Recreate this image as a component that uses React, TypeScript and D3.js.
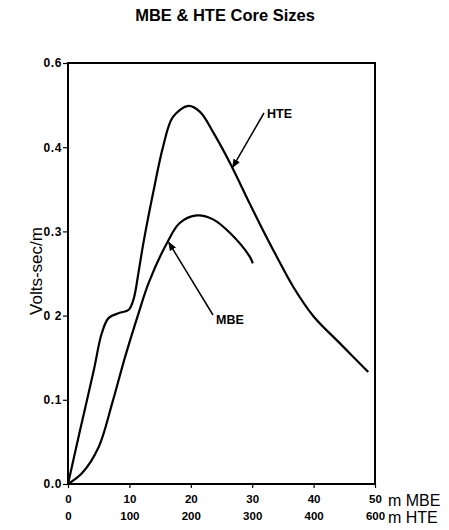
import React, { useEffect, useRef } from "react";
import * as d3 from "d3";

// Y tick values (axis position) and the labels as printed on the chart
const yTickValues = [0, 0.1, 0.2, 0.3, 0.4, 0.5];
const yTickLabels = ["0.0", "0.1", "0 2", "0.3", "0.4", "0.6"];

// MBE length axis (m)
const mbeTickValues = [0, 10, 20, 30, 40, 50];
const mbeTickLabels = ["0", "10", "20", "30", "40", "50"];

// HTE length axis (m), positions and printed labels
const hteTickValues = [0, 100, 200, 300, 400, 500];
const hteTickLabels = ["0", "100", "200", "300", "400", "600"];

// HTE curve, x in HTE axis units
const hteX = [0, 20, 42, 55, 66, 83, 99, 107, 115, 123, 139, 155, 171, 196, 215, 237, 264, 296, 313, 340, 367, 400, 443, 489];
const hteY = [0, 0.065, 0.135, 0.179, 0.197, 0.203, 0.207, 0.22, 0.252, 0.287, 0.347, 0.401, 0.436, 0.449, 0.442, 0.417, 0.381, 0.333, 0.308, 0.27, 0.234, 0.199, 0.167, 0.133];

// MBE curve, x in MBE axis units
const mbeX = [0, 2.3, 5.0, 7.2, 9.3, 11.5, 13.2, 16.1, 18.2, 21.0, 23.7, 26.4, 29.6, 30.1];
const mbeY = [0, 0.013, 0.044, 0.096, 0.151, 0.203, 0.24, 0.286, 0.31, 0.319, 0.314, 0.298, 0.27, 0.262];

const FONT = "'Liberation Sans', Arial, sans-serif";

const App: React.FC = () => {
  const svgRef = useRef<SVGSVGElement>(null);

  useEffect(() => {
    if (!svgRef.current) return;
    const svg = d3.select(svgRef.current);
    svg.selectAll("*").remove();

    const left = 68;
    const right = 375;
    const top = 63;
    const bottom = 484;

    const y = d3.scaleLinear().domain([0, 0.5]).range([bottom, top]);
    const xMbe = d3.scaleLinear().domain([0, 50]).range([left, right]);
    const xHte = d3.scaleLinear().domain([0, 500]).range([left, right]);

    // title
    svg
      .append("text")
      .attr("x", 225)
      .attr("y", 21)
      .attr("text-anchor", "middle")
      .style("font-family", FONT)
      .style("font-size", "16.5px")
      .style("font-weight", "bold")
      .text("MBE & HTE Core Sizes");

    // frame
    svg
      .append("rect")
      .attr("x", left)
      .attr("y", top)
      .attr("width", right - left)
      .attr("height", bottom - top)
      .attr("fill", "none")
      .attr("stroke", "#000")
      .attr("stroke-width", 2);

    // y axis
    const yAxis = svg
      .append("g")
      .attr("transform", `translate(${left},0)`)
      .call(
        d3
          .axisLeft(y)
          .tickValues(yTickValues)
          .tickSize(5)
          .tickFormat((_, i) => yTickLabels[i])
      );
    yAxis.select(".domain").remove();
    yAxis.selectAll("line").attr("stroke", "#000").attr("stroke-width", 1.2);
    yAxis
      .selectAll("text")
      .attr("x", -6)
      .style("font-family", FONT)
      .style("font-size", "12px")
      .style("font-weight", "bold")
      .style("letter-spacing", "0.6px");

    // x axis (MBE row)
    const xAxis = svg
      .append("g")
      .attr("transform", `translate(0,${bottom})`)
      .call(
        d3
          .axisBottom(xMbe)
          .tickValues(mbeTickValues)
          .tickSize(4)
          .tickFormat((_, i) => mbeTickLabels[i])
      );
    xAxis.select(".domain").remove();
    xAxis.selectAll("line").attr("stroke", "#000").attr("stroke-width", 1.2);
    xAxis
      .selectAll("text")
      .attr("y", 11)
      .style("font-family", FONT)
      .style("font-size", "11.5px")
      .style("font-weight", "bold");

    // x axis (HTE row)
    const xAxis2 = svg
      .append("g")
      .attr("transform", `translate(0,${bottom + 17})`)
      .call(
        d3
          .axisBottom(xHte)
          .tickValues(hteTickValues)
          .tickSize(0)
          .tickFormat((_, i) => hteTickLabels[i])
      );
    xAxis2.select(".domain").remove();
    xAxis2
      .selectAll("text")
      .attr("y", 11)
      .style("font-family", FONT)
      .style("font-size", "11.5px")
      .style("font-weight", "bold");

    svg
      .append("text")
      .attr("x", 388)
      .attr("y", 506)
      .style("font-family", FONT)
      .style("font-size", "16px")
      .text("m MBE");
    svg
      .append("text")
      .attr("x", 388)
      .attr("y", 523)
      .style("font-family", FONT)
      .style("font-size", "16px")
      .text("m HTE");

    // y label
    svg
      .append("text")
      .attr("transform", `translate(42,271) rotate(-90)`)
      .attr("text-anchor", "middle")
      .style("font-family", FONT)
      .style("font-size", "17px")
      .text("Volts-sec/m");

    // curves
    const hteLine = d3
      .line<number>()
      .x((d) => xHte(d))
      .y((_, i) => y(hteY[i]))
      .curve(d3.curveCatmullRom.alpha(0.5));
    const mbeLine = d3
      .line<number>()
      .x((d) => xMbe(d))
      .y((_, i) => y(mbeY[i]))
      .curve(d3.curveCatmullRom.alpha(0.5));

    svg
      .append("path")
      .attr("d", hteLine(hteX))
      .attr("fill", "none")
      .attr("stroke", "#000")
      .attr("stroke-width", 2.2);
    svg
      .append("path")
      .attr("d", mbeLine(mbeX))
      .attr("fill", "none")
      .attr("stroke", "#000")
      .attr("stroke-width", 2.2);

    // annotation arrows
    svg
      .append("defs")
      .append("marker")
      .attr("id", "arrow")
      .attr("viewBox", "0 0 10 10")
      .attr("refX", 9)
      .attr("refY", 5)
      .attr("markerWidth", 9)
      .attr("markerHeight", 9)
      .attr("markerUnits", "userSpaceOnUse")
      .attr("orient", "auto")
      .append("path")
      .attr("d", "M0,1 L10,5 L0,9 Z")
      .attr("fill", "#000");

    const hteTip: [number, number] = [xHte(268), y(0.376)];
    svg
      .append("line")
      .attr("x1", 264)
      .attr("y1", 113)
      .attr("x2", hteTip[0])
      .attr("y2", hteTip[1])
      .attr("stroke", "#000")
      .attr("stroke-width", 1.5)
      .attr("marker-end", "url(#arrow)");
    svg
      .append("text")
      .attr("x", 267)
      .attr("y", 118)
      .style("font-family", FONT)
      .style("font-size", "12.5px")
      .style("font-weight", "bold")
      .text("HTE");

    const mbeTip: [number, number] = [xMbe(16.4), y(0.287)];
    svg
      .append("line")
      .attr("x1", 213)
      .attr("y1", 315)
      .attr("x2", mbeTip[0])
      .attr("y2", mbeTip[1])
      .attr("stroke", "#000")
      .attr("stroke-width", 1.5)
      .attr("marker-end", "url(#arrow)");
    svg
      .append("text")
      .attr("x", 216)
      .attr("y", 324)
      .style("font-family", FONT)
      .style("font-size", "12.5px")
      .style("font-weight", "bold")
      .text("MBE");
  }, []);

  return (
    <svg
      ref={svgRef}
      width={449}
      height={530}
      style={{ position: "absolute", left: 0, top: 0, background: "#fff" }}
    />
  );
};

export default App;
